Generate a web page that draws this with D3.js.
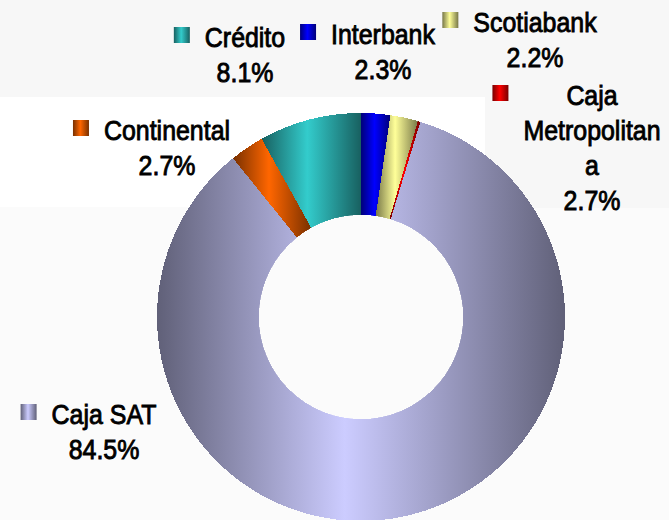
<!DOCTYPE html>
<html>
<head>
<meta charset="utf-8">
<script src="https://cdn.jsdelivr.net/npm/d3@7"></script>
<style>
  html, body { margin: 0; padding: 0; background: #fbfbfb; }
  svg { display: block; }
  .lbl { font-family: "Liberation Sans", Arial, sans-serif; font-size: 28px; fill: #000; stroke: #000; stroke-width: 0.9px; paint-order: stroke; }
</style>
</head>
<body>
<svg id="chart" width="669" height="520"></svg>
<script>
// data (clockwise from 12 o'clock)
const categories = ["Interbank", "Scotiabank", "Caja Metropolitana", "Caja SAT", "Continental", "Crédito"];
const shares = [2.3, 2.2, 0.2, 84.5, 2.7, 8.1];
const shareLabels = ["2.3%", "2.2%", "2.7%", "84.5%", "2.7%", "8.1%"];

const palette = ["#0000ff", "#ffff99", "#ff0000", "#ccccff", "#ff6600", "#33cccc"];

// where each label sits: text centre x, first baseline y, wrap width
const labelPos = {
  "Interbank":          { x: 383, y: 44,  wrap: 200 },
  "Scotiabank":         { x: 535, y: 32,  wrap: 200 },
  "Caja Metropolitana": { x: 592, y: 105, wrap: 145 },
  "Caja SAT":           { x: 104, y: 424, wrap: 200 },
  "Continental":        { x: 167, y: 140, wrap: 200 },
  "Crédito":            { x: 245, y: 47,  wrap: 200 }
};

const width = 669, height = 520;
const cx = 361, cy = 317;
const outerR = 204, innerR = 102;
const squeeze = 0.89;
const lineH = 35;

const svg = d3.select("#chart");

// background bands like the original (very faint)
svg.append("rect").attr("width", width).attr("height", height).attr("fill", "#fbfbfb");
svg.append("rect").attr("width", width).attr("height", 97).attr("fill", "#f7f7f7");
svg.append("rect").attr("x", 485).attr("y", 97).attr("width", width - 485).attr("height", 111).attr("fill", "#f7f7f7");
svg.append("rect").attr("x", 0).attr("y", 97).attr("width", 485).attr("height", 110).attr("fill", "#ffffff");

// metallic gradients, one per colour
const defs = svg.append("defs");
palette.forEach(function(c, i) {
  const dark = d3.interpolateRgb(c, "#000")(0.53);
  const g = defs.append("linearGradient")
    .attr("id", "grad" + i)
    .attr("x1", 0).attr("x2", 1).attr("y1", 0).attr("y2", 0);
  g.append("stop").attr("offset", 0).attr("stop-color", dark);
  g.append("stop").attr("offset", 0.46).attr("stop-color", c);
  g.append("stop").attr("offset", 1).attr("stop-color", dark);
});

const pie = d3.pie().sort(null).value(d => d);
const arc = d3.arc().innerRadius(innerR).outerRadius(outerR);

svg.append("g")
  .attr("transform", `translate(${cx},${cy})`)
  .selectAll("path")
  .data(pie(shares))
  .join("path")
  .attr("d", arc)
  .attr("fill", (d, i) => `url(#grad${i})`)
  .attr("shape-rendering", "crispEdges");

// hole
svg.append("circle").attr("cx", cx).attr("cy", cy).attr("r", innerR).attr("fill", "#fbfbfb");

// measure text to wrap like the original
const meas = svg.append("text").attr("class", "lbl").attr("visibility", "hidden");
function textW(s) {
  meas.text(s);
  return meas.node().getComputedTextLength() * squeeze;
}
function wrapName(name, maxW) {
  const lines = [];
  let cur = "";
  name.split(" ").forEach(function(w) {
    const test = cur ? cur + " " + w : w;
    if (textW(test) <= maxW) { cur = test; return; }
    if (cur) lines.push(cur);
    cur = "";
    // word longer than the box: break by characters
    let piece = "";
    for (const ch of w) {
      if (textW(piece + ch) > maxW && piece) { lines.push(piece); piece = ch; }
      else piece += ch;
    }
    cur = piece;
  });
  if (cur) lines.push(cur);
  return lines;
}

const labels = svg.append("g");
categories.forEach(function(name, i) {
  const p = labelPos[name];
  const lines = wrapName(name, p.wrap);
  const widest = d3.max(lines, l => textW(l));

  labels.append("rect")
    .attr("x", p.x - widest / 2 - 15 - 16)
    .attr("y", p.y - 20)
    .attr("width", 16).attr("height", 16)
    .attr("fill", `url(#grad${i})`);

  const t = labels.append("g")
    .attr("transform", `translate(${p.x},${p.y}) scale(${squeeze},1)`)
    .append("text")
    .attr("class", "lbl")
    .attr("text-anchor", "middle");

  lines.concat([shareLabels[i]]).forEach(function(l, k) {
    t.append("tspan").attr("x", 0).attr("y", k * lineH).text(l);
  });
});
meas.remove();
</script>
</body>
</html>
